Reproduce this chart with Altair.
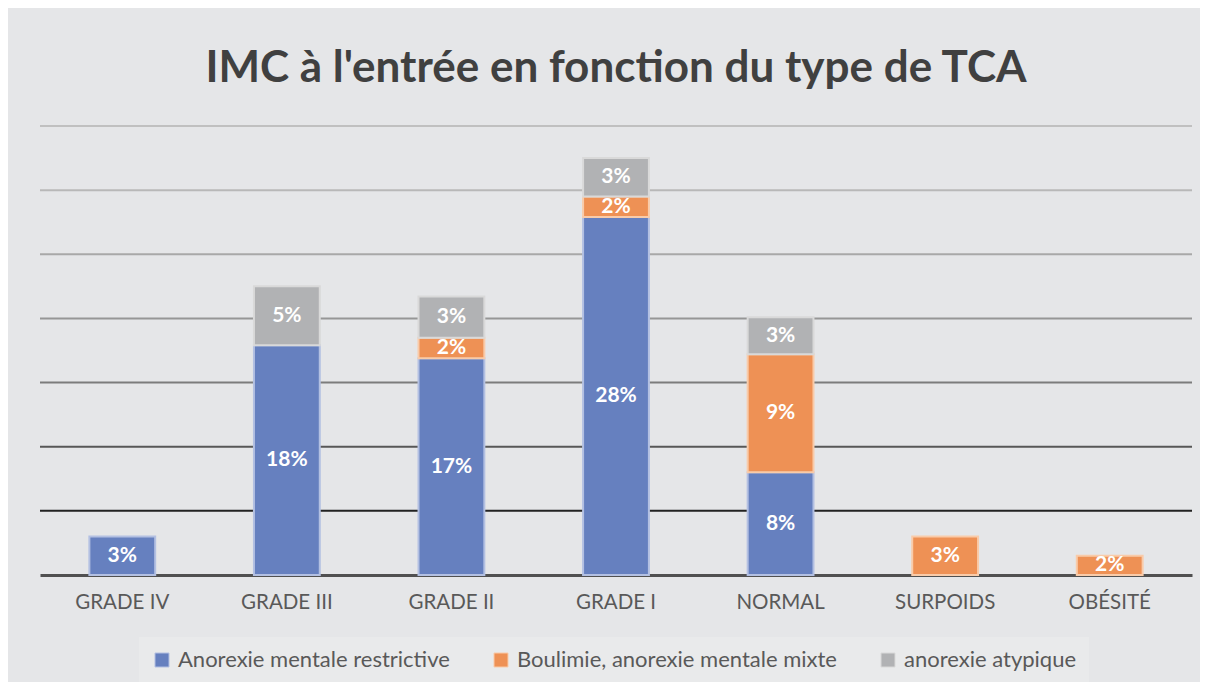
import altair as alt
import pandas as pd

categories = ["GRADE IV", "GRADE III", "GRADE II", "GRADE I", "NORMAL", "SURPOIDS", "OBÉSITÉ"]
series = ["Anorexie mentale restrictive", "Boulimie, anorexie mentale mixte", "anorexie atypique"]
restrictive = [3.0, 17.9, 16.9, 27.9, 8.0, 0, 0]
mixte = [0, 0, 1.6, 1.6, 9.2, 3.0, 1.5]
atypique = [0, 4.6, 3.2, 3.0, 2.9, 0, 0]
grid_values = [5, 10, 15, 20, 25, 30, 35]

rows = []
for s_i, (s, vals) in enumerate(zip(series, [restrictive, mixte, atypique])):
    for c, v in zip(categories, vals):
        if v > 0:
            rows.append({"cat": c, "serie": s, "order": s_i, "v": v})
df = pd.DataFrame(rows)
grid_df = pd.DataFrame({"g": grid_values})

FONT = "Lato"
fill_colors = ["#6680bf", "#ee9155", "#b1b2b4"]
stroke_colors = ["#b3c0e2", "#f9cba9", "#d9d9d9"]
grid_colors = ["#222222", "#575757", "#7c7c7c", "#969696", "#a8a8a8", "#b8b8b8", "#c0c0c0"]

yscale = alt.Scale(domain=[0, 35], nice=False)

x_enc = alt.X(
    "cat:N",
    sort=categories,
    scale=alt.Scale(paddingInner=0.6, paddingOuter=0.3),
    axis=alt.Axis(
        title=None, labelAngle=0, labelFont=FONT, labelFontSize=20.5,
        labelColor="#595959", labelPadding=17, ticks=False,
        domainColor="#505050", domainWidth=3,
    ),
)

rules = alt.Chart(grid_df).mark_rule(strokeWidth=2).encode(
    y=alt.Y("g:Q", scale=yscale, axis=None),
    color=alt.Color("g:O", scale=alt.Scale(domain=grid_values, range=grid_colors), legend=None),
)

bars = alt.Chart(df).mark_bar(strokeWidth=2).encode(
    x=x_enc,
    y=alt.Y("v:Q", stack="zero", scale=yscale, axis=None),
    order=alt.Order("order:Q"),
    color=alt.Color(
        "serie:N",
        scale=alt.Scale(domain=series, range=fill_colors),
        legend=alt.Legend(
            title=None, orient="none", legendX=99, legendY=511, direction="horizontal",
            fillColor="#e9eaeb", padding=12, symbolType="square", symbolSize=196,
            symbolStrokeColor="#ffffff", symbolStrokeWidth=1,
            labelFont=FONT, labelFontSize=22, labelColor="#595959",
            labelOffset=5, columnPadding=40, labelLimit=500,
        ),
    ),
    stroke=alt.Stroke("serie:N", scale=alt.Scale(domain=series, range=stroke_colors), legend=None),
)

text = alt.Chart(df).transform_stack(
    stack="v", groupby=["cat"], sort=[alt.SortField("order")], as_=["y0", "y1"]
).transform_calculate(
    mid="(datum.y0 + datum.y1) / 2",
    lab="format(datum.v, '.0f') + '%'",
).mark_text(font=FONT, fontWeight="bold", fontSize=21, color="white").encode(
    x=x_enc,
    y=alt.Y("mid:Q", scale=yscale, axis=None),
    text="lab:N",
)

chart = alt.layer(rules, bars, text).resolve_scale(
    color="independent", stroke="independent"
).properties(
    width=1152,
    height=449,
    autosize="none",
    padding={"left": 32, "top": 118, "right": 8, "bottom": 107},
    background="#e5e6e8",
    title=alt.TitleParams(
        "IMC à l'entrée en fonction du type de TCA",
        font=FONT, fontSize=44, fontWeight="bold", color="#404040",
        anchor="middle", offset=34,
    ),
).configure_view(stroke=None)

chart.save("out.html", embed_options={"renderer": "svg", "actions": False})
